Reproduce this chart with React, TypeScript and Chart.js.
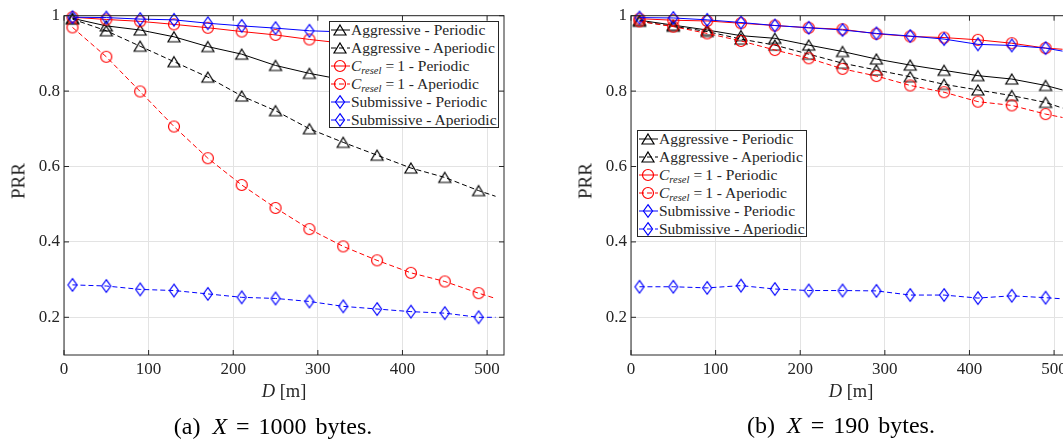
import React, { useEffect, useRef } from 'react';
import { Chart, registerables } from 'chart.js';

Chart.register(...registerables);

// ---------- data ----------
const D = [10, 50, 90, 130, 170, 210, 250, 290, 330, 370, 410, 450, 490, 510];
const X_TICKS = [0, 100, 200, 300, 400, 500];
const Y_TICKS = [0.2, 0.4, 0.6, 0.8, 1];
const Y_TICK_LABELS = ['0.2', '0.4', '0.6', '0.8', '1'];

const SERIES_NAMES = [
  'Aggressive - Periodic',
  'Aggressive - Aperiodic',
  'Cresel = 1 - Periodic',
  'Cresel = 1 - Aperiodic',
  'Submissive - Periodic',
  'Submissive - Aperiodic',
];

// (a) X = 1000 bytes
const aAggPer = [0.993, 0.973, 0.962, 0.944, 0.918, 0.898, 0.868, 0.847, 0.83, 0.815, 0.8, 0.785, 0.77, 0.762];
const aAggAper = [0.991, 0.96, 0.919, 0.878, 0.837, 0.787, 0.748, 0.7, 0.664, 0.63, 0.596, 0.571, 0.536, 0.521];
const aCrPer = [0.996, 0.99, 0.985, 0.977, 0.968, 0.958, 0.949, 0.937, 0.927, 0.917, 0.907, 0.897, 0.887, 0.882];
const aCrAper = [0.969, 0.891, 0.799, 0.706, 0.622, 0.551, 0.49, 0.434, 0.388, 0.351, 0.318, 0.295, 0.264, 0.25];
const aSubPer = [0.996, 0.995, 0.991, 0.989, 0.98, 0.973, 0.967, 0.96, 0.957, 0.952, 0.948, 0.944, 0.94, 0.938];
const aSubAper = [0.286, 0.283, 0.274, 0.271, 0.262, 0.253, 0.25, 0.242, 0.229, 0.222, 0.215, 0.211, 0.2, 0.2];

// (b) X = 190 bytes
const bAggPer = [0.988, 0.975, 0.962, 0.947, 0.94, 0.922, 0.905, 0.885, 0.869, 0.855, 0.841, 0.832, 0.815, 0.803];
const bAggAper = [0.985, 0.972, 0.958, 0.938, 0.922, 0.898, 0.874, 0.856, 0.838, 0.818, 0.803, 0.788, 0.77, 0.755];
const bCrPer = [0.992, 0.988, 0.986, 0.98, 0.974, 0.968, 0.964, 0.952, 0.945, 0.942, 0.936, 0.927, 0.914, 0.911];
const bCrAper = [0.985, 0.971, 0.953, 0.933, 0.909, 0.887, 0.859, 0.84, 0.815, 0.797, 0.772, 0.762, 0.739, 0.73];
const bSubPer = [0.995, 0.994, 0.989, 0.982, 0.974, 0.968, 0.962, 0.953, 0.946, 0.938, 0.924, 0.921, 0.914, 0.906];
const bSubAper = [0.281, 0.281, 0.278, 0.284, 0.275, 0.271, 0.271, 0.27, 0.259, 0.259, 0.251, 0.257, 0.252, 0.249];

// ---------- styles ----------
type Kind = 'tri' | 'circ' | 'diam';
const STYLES: { color: string; dashed: boolean; kind: Kind }[] = [
  { color: '#000000', dashed: false, kind: 'tri' },
  { color: '#000000', dashed: true, kind: 'tri' },
  { color: '#ff0000', dashed: false, kind: 'circ' },
  { color: '#ff0000', dashed: true, kind: 'circ' },
  { color: '#0000ff', dashed: false, kind: 'diam' },
  { color: '#0000ff', dashed: true, kind: 'diam' },
];
const DASH = [5, 3];
const AXIS_COLOR = '#262626';
const GRID_COLOR = '#e3e3e3';
const FONT = 'Liberation Serif';

function markerPath(kind: Kind, cx: number, cy: number) {
  if (kind === 'tri') return `M ${cx} ${cy - 5} L ${cx + 6} ${cy + 5} L ${cx - 6} ${cy + 5} Z`;
  return `M ${cx} ${cy - 6.3} L ${cx + 4.5} ${cy} L ${cx} ${cy + 6.3} L ${cx - 4.5} ${cy} Z`;
}

function makeMarker(kind: Kind, color: string): HTMLCanvasElement {
  const s = 16;
  const c = document.createElement('canvas');
  c.width = s;
  c.height = s;
  const g = c.getContext('2d')!;
  g.strokeStyle = color;
  g.lineWidth = 1.2;
  const m = s / 2;
  g.beginPath();
  if (kind === 'tri') {
    g.moveTo(m, m - 5);
    g.lineTo(m + 6, m + 5);
    g.lineTo(m - 6, m + 5);
    g.closePath();
  } else if (kind === 'circ') {
    g.arc(m, m, 5.5, 0, Math.PI * 2);
  } else {
    g.moveTo(m, m - 6.3);
    g.lineTo(m + 4.5, m);
    g.lineTo(m, m + 6.3);
    g.lineTo(m - 4.5, m);
    g.closePath();
  }
  g.stroke();
  return c;
}

const framePlugin = {
  id: 'matlabFrame',
  afterDatasetsDraw(chart: any) {
    const { ctx, chartArea: a, scales } = chart;
    ctx.save();
    ctx.strokeStyle = AXIS_COLOR;
    ctx.lineWidth = 1;
    ctx.strokeRect(a.left, a.top, a.right - a.left, a.bottom - a.top);
    ctx.beginPath();
    const tl = 5;
    scales.x.ticks.forEach((t: any) => {
      const x = scales.x.getPixelForValue(t.value);
      ctx.moveTo(x, a.bottom);
      ctx.lineTo(x, a.bottom - tl);
      ctx.moveTo(x, a.top);
      ctx.lineTo(x, a.top + tl);
    });
    scales.y.ticks.forEach((t: any) => {
      const y = scales.y.getPixelForValue(t.value);
      ctx.moveTo(a.left, y);
      ctx.lineTo(a.left + tl, y);
      ctx.moveTo(a.right, y);
      ctx.lineTo(a.right - tl, y);
    });
    ctx.stroke();
    ctx.restore();
  },
};

function PlotCanvas({ series }: { series: number[][] }) {
  const ref = useRef<HTMLCanvasElement>(null);
  useEffect(() => {
    if (!ref.current) return;
    const last = D.length - 1;
    const datasets = series
      .map((vals, k) => {
        const st = STYLES[k];
        return {
          label: SERIES_NAMES[k],
          data: D.map((x, i) => ({ x, y: vals[i] })),
          borderColor: st.color,
          backgroundColor: 'transparent',
          borderWidth: 1,
          borderDash: st.dashed ? DASH : [],
          pointStyle: makeMarker(st.kind, st.color),
          pointRadius: D.map((_, i) => (i < last ? 5 : 0)),
          pointHoverRadius: 0,
          tension: 0,
          fill: false,
          clip: false as any,
        };
      })
      .reverse();
    const tickFont = { family: FONT, size: 17 };
    const chart = new Chart(ref.current, {
      type: 'line',
      data: { datasets },
      options: {
        animation: false,
        responsive: false,
        maintainAspectRatio: false,
        events: [],
        layout: { padding: { left: 0, right: 16, top: 15.7, bottom: 5 } },
        plugins: { legend: { display: false }, tooltip: { enabled: false } },
        scales: {
          x: {
            type: 'linear',
            min: 0,
            max: 520,
            afterFit: (s: any) => {
              s.height = 25;
            },
            afterBuildTicks: (s: any) => {
              s.ticks = X_TICKS.map((v) => ({ value: v }));
            },
            ticks: {
              autoSkip: false,
              maxRotation: 0,
              padding: 4,
              color: AXIS_COLOR,
              font: tickFont,
              callback: (v: any) => String(v),
            },
            grid: { color: GRID_COLOR, drawTicks: false, tickLength: 0 },
            border: { display: false },
          },
          y: {
            type: 'linear',
            min: 0.1,
            max: 1,
            afterFit: (s: any) => {
              s.width = 64;
            },
            afterBuildTicks: (s: any) => {
              s.ticks = Y_TICKS.map((v) => ({ value: v }));
            },
            ticks: {
              autoSkip: false,
              padding: 4,
              color: AXIS_COLOR,
              font: tickFont,
              callback: (_v: any, i: number) => Y_TICK_LABELS[i],
            },
            grid: { color: GRID_COLOR, drawTicks: false, tickLength: 0 },
            border: { display: false },
          },
        },
      } as any,
      plugins: [framePlugin],
    });
    return () => chart.destroy();
  }, [series]);
  return <canvas ref={ref} width={520} height={385} style={{ display: 'block' }} />;
}

function LegendLabel({ k }: { k: number }) {
  if (k === 2 || k === 3) {
    return (
      <span>
        <i>C</i>
        <i style={{ fontSize: '10.5px', position: 'relative', top: 3 }}>resel</i>
        <span style={{ margin: '0 3px 0 4px' }}>=</span>1 - {k === 2 ? 'Periodic' : 'Aperiodic'}
      </span>
    );
  }
  return <span>{SERIES_NAMES[k]}</span>;
}

function Legend({ left, top }: { left: number; top: number }) {
  return (
    <div
      style={{
        position: 'absolute',
        left,
        top,
        width: 170,
        height: 107,
        border: `1px solid ${AXIS_COLOR}`,
        background: '#fff',
        boxSizing: 'border-box',
        fontFamily: FONT,
        fontSize: '15.5px',
        color: AXIS_COLOR,
      }}
    >
      {STYLES.map((st, k) => {
        const cy = 8 + k * 17.9;
        return (
          <div key={k} style={{ position: 'absolute', left: 0, top: cy - 8, height: 16, width: '100%' }}>
            <svg width={21} height={16} style={{ position: 'absolute', left: 0, top: 0 }}>
              <line
                x1={1}
                x2={20}
                y1={8}
                y2={8}
                stroke={st.color}
                strokeWidth={1}
                strokeDasharray={st.dashed ? DASH.join(' ') : undefined}
              />
              {st.kind === 'circ' ? (
                <circle cx={10} cy={8} r={5.5} fill="none" stroke={st.color} strokeWidth={1.2} />
              ) : (
                <path d={markerPath(st.kind, 10, 8)} fill="none" stroke={st.color} strokeWidth={1.2} />
              )}
            </svg>
            <span
              style={{ position: 'absolute', left: 21, top: 0, lineHeight: '16px', whiteSpace: 'nowrap' }}
            >
              <LegendLabel k={k} />
            </span>
          </div>
        );
      })}
    </div>
  );
}

function Centered({ x, y, children, style }: any) {
  return (
    <div
      style={{
        position: 'absolute',
        left: x,
        top: y,
        transform: 'translate(-50%, -50%)',
        whiteSpace: 'nowrap',
        lineHeight: 1,
        fontFamily: FONT,
        color: AXIS_COLOR,
        ...style,
      }}
    >
      {children}
    </div>
  );
}

function Caption({ tag, value }: { tag: string; value: string }) {
  return (
    <span style={{ display: 'inline-flex', alignItems: 'baseline', color: '#000' }}>
      <span>({tag})</span>
      <i style={{ marginLeft: 12 }}>X</i>
      <span style={{ marginLeft: 9 }}>=</span>
      <span style={{ marginLeft: 9 }}>{value}</span>
      <span style={{ marginLeft: 9 }}>bytes.</span>
    </span>
  );
}

const SERIES_A = [aAggPer, aAggAper, aCrPer, aCrAper, aSubPer, aSubAper];
const SERIES_B = [bAggPer, bAggAper, bCrPer, bCrAper, bSubPer, bSubAper];

export default function App() {
  const off = 567;
  return (
    <div
      style={{
        position: 'fixed',
        left: 0,
        top: 0,
        width: 1063,
        height: 439,
        overflow: 'hidden',
        background: '#fff',
      }}
    >
      <div style={{ position: 'absolute', left: 0, top: 0 }}>
        <PlotCanvas series={SERIES_A} />
      </div>
      <div style={{ position: 'absolute', left: off, top: 0 }}>
        <PlotCanvas series={SERIES_B} />
      </div>

      <Legend left={329} top={21} />
      <Legend left={637} top={130} />

      <Centered x={18} y={181} style={{ fontSize: 19, transform: 'translate(-50%, -50%) rotate(-90deg)' }}>
        PRR
      </Centered>
      <Centered x={18 + off} y={181} style={{ fontSize: 19, transform: 'translate(-50%, -50%) rotate(-90deg)' }}>
        PRR
      </Centered>

      <Centered x={284} y={391} style={{ fontSize: 18.5 }}>
        <i>D</i> [m]
      </Centered>
      <Centered x={284 + off} y={391} style={{ fontSize: 18.5 }}>
        <i>D</i> [m]
      </Centered>

      <Centered x={273} y={426} style={{ fontSize: 24 }}>
        <Caption tag="a" value="1000" />
      </Centered>
      <Centered x={841} y={425} style={{ fontSize: 24 }}>
        <Caption tag="b" value="190" />
      </Centered>
    </div>
  );
}
